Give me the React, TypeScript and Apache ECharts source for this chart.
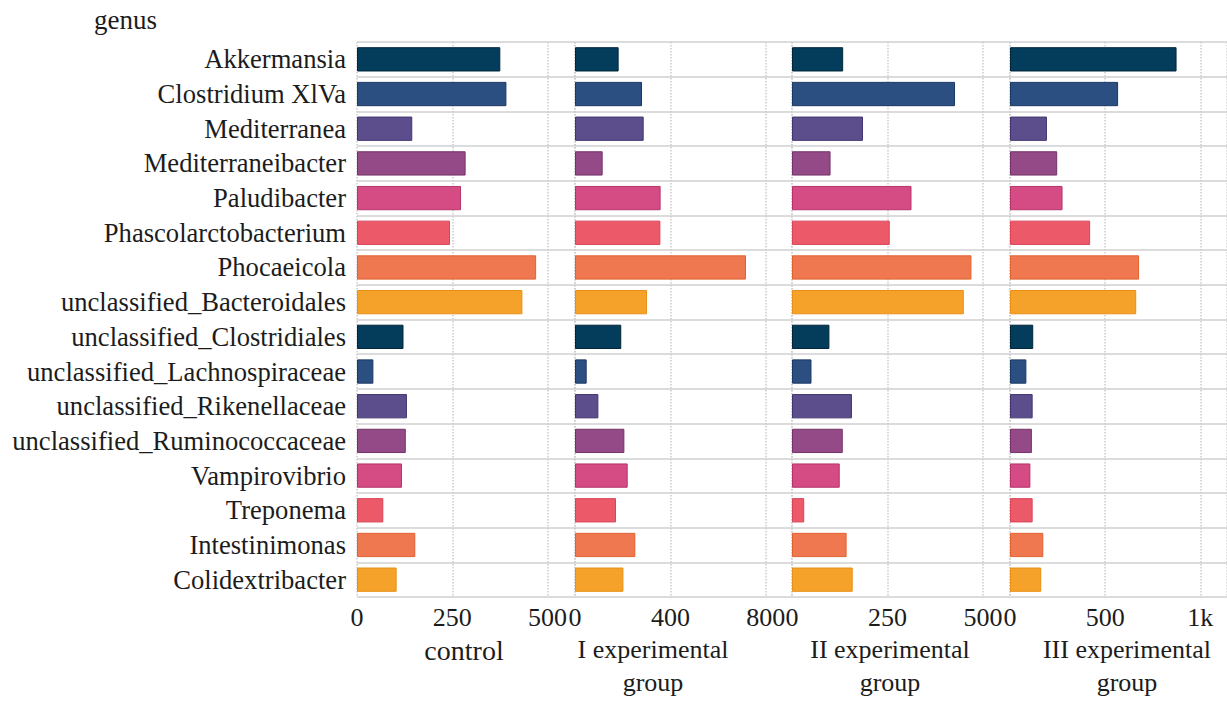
import React, { useEffect, useRef } from "react";
import * as echarts from "echarts";

const categories = [
  "Akkermansia",
  "Clostridium XlVa",
  "Mediterranea",
  "Mediterraneibacter",
  "Paludibacter",
  "Phascolarctobacterium",
  "Phocaeicola",
  "unclassified_Bacteroidales",
  "unclassified_Clostridiales",
  "unclassified_Lachnospiraceae",
  "unclassified_Rikenellaceae",
  "unclassified_Ruminococcaceae",
  "Vampirovibrio",
  "Treponema",
  "Intestinimonas",
  "Colidextribacter",
];

const groupNames = ["control", "I experimental\ngroup", "II experimental\ngroup", "III experimental\ngroup"];

const control = [376, 392, 145, 285, 273, 244, 470, 434, 122, 43, 131, 128, 118, 69, 153, 104];
const group1 = [183, 281, 288, 116, 359, 358, 717, 302, 194, 49, 98, 207, 221, 172, 253, 203];
const group2 = [134, 427, 186, 101, 313, 256, 470, 450, 98, 51, 157, 133, 125, 32, 143, 159];
const group3 = [875, 568, 194, 248, 276, 421, 678, 663, 122, 86, 119, 115, 107, 119, 175, 164];

const axisMax = [572, 910, 571, 1140];
const axisInterval = [250, 400, 250, 500];

const PALETTE = ["#033d5b", "#2c4f81", "#5c4e8c", "#934a86", "#d54c85", "#ec5a69", "#ef7850", "#f5a22a"];
const BORDERS = ["#01263a", "#1b3763", "#42356f", "#743368", "#b5336a", "#d8455a", "#e0622f", "#e88f14"];

const FONT = "'Liberation Serif', 'Times New Roman', serif";
const TEXT = "#1c1c1c";

export default function App() {
  const ref = useRef<HTMLDivElement>(null);
  useEffect(() => {
    document.body.style.margin = "0";
    const chart = echarts.init(ref.current as HTMLDivElement, null, { renderer: "svg" });
    const datasets = [control, group1, group2, group3];
    const lefts = [357, 575, 792, 1010];
    const widths = [218, 217, 218, 217];
    const nameX = [464, 653, 890, 1127];
    const nameY = [634, 633, 633, 633];

    const option: any = {
      animation: false,
      backgroundColor: "#ffffff",
      graphic: [
        {
          type: "text",
          x: 94,
          y: 6,
          style: { text: "genus", fontSize: 27, fontFamily: FONT, fill: TEXT },
        },
        ...groupNames.map((n, i) => ({
          type: "text",
          x: nameX[i],
          y: nameY[i],
          style: {
            text: n,
            fontSize: i === 0 ? 28 : 26,
            fontFamily: FONT,
            fill: TEXT,
            lineHeight: 33,
            align: "center",
            verticalAlign: "top",
          },
        })),
      ],
      grid: lefts.map((l, i) => ({ left: l, width: widths[i], top: 42, height: 555 })),
      xAxis: datasets.map((_, i) => ({
        type: "value",
        gridIndex: i,
        min: 0,
        max: axisMax[i],
        interval: axisInterval[i],
        axisLine: { show: false },
        axisTick: { show: false },
        splitLine: { show: true, lineStyle: { type: "dotted", color: "#cccccc", width: 1.5 } },
        axisLabel: {
          showMaxLabel: false,
          fontSize: 26,
          fontFamily: FONT,
          color: TEXT,
          margin: 7,
          formatter: (v: number) => (v >= 1000 ? v / 1000 + "k" : String(v)),
        },
      })),
      yAxis: datasets.map((_, i) => ({
        type: "category",
        gridIndex: i,
        data: categories,
        inverse: true,
        axisLine: { show: false },
        axisTick: { show: false },
        axisLabel: {
          show: i === 0,
          fontSize: 26.6,
          fontFamily: FONT,
          color: TEXT,
          margin: 11,
          interval: 0,
        },
        splitLine: { show: true, lineStyle: { color: "#dcdcdc", width: 2 } },
      })),
      series: datasets.map((d, i) => ({
        type: "bar",
        xAxisIndex: i,
        yAxisIndex: i,
        barCategoryGap: "30%",
        data: d.map((v: number, j: number) => ({
          value: v,
          itemStyle: { color: PALETTE[j % 8], borderColor: BORDERS[j % 8], borderWidth: 1 },
        })),
      })),
    };
    chart.setOption(option);
    return () => chart.dispose();
  }, []);
  return <div ref={ref} style={{ width: 1227, height: 704 }} />;
}
